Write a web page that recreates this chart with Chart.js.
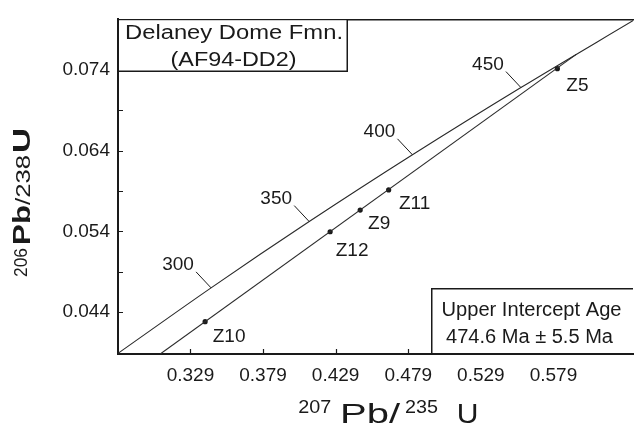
<!DOCTYPE html>
<html>
<head>
<meta charset="utf-8">
<script src="https://cdn.jsdelivr.net/npm/chart.js@4.4.0/dist/chart.umd.min.js"></script>
<style>
  body { margin: 0; background: #fff; }
  canvas { display: block; }
</style>
</head>
<body>
<canvas id="myChart" width="637" height="425"></canvas>
<script>
// concordia (Ma, 207Pb/235U, 206Pb/238U)
const concAges = [250, 300, 350, 400, 450, 500];
const concX = [0.2788, 0.3432, 0.4108, 0.4819, 0.5566, 0.6350];
const concY = [0.03887, 0.04701, 0.05521, 0.06347, 0.07179, 0.08019];
const labeledAges = [300, 350, 400, 450];

// zircon fractions
const zirconNames = ["Z10", "Z12", "Z9", "Z11", "Z5"];
const zirconX = [0.3391, 0.4252, 0.4459, 0.4655, 0.5817];
const zirconY = [0.04283, 0.05395, 0.05663, 0.05912, 0.07412];

// discordia (lower end at axis, upper intercept)
const discX = [0.3082, 0.5947];
const discY = [0.03883, 0.07589];

const xTicks = [0.329, 0.379, 0.429, 0.479, 0.529, 0.579, 0.629];
const xTickLabels = ["0.329", "0.379", "0.429", "0.479", "0.529", "0.579", ""];
const yTicks = [0.044, 0.049, 0.054, 0.059, 0.064, 0.069, 0.074];
const yTickLabels = ["0.044", "", "0.054", "", "0.064", "", "0.074"];

const FONT = "'Liberation Sans', Arial, Helvetica, sans-serif";
const INK = "#1a1a1a";

// draw text squeezed/stretched horizontally to a given width
function fitText(ctx, text, font, x, y, w, align) {
  ctx.save();
  ctx.font = font;
  const m = ctx.measureText(text).width;
  const s = w ? w / m : 1;
  let left = x;
  if (align === "center") left = x - (m * s) / 2;
  ctx.translate(left, y);
  ctx.scale(s, 1);
  ctx.textAlign = "left";
  ctx.fillText(text, 0, 0);
  ctx.restore();
}

const decoPlugin = {
  id: "deco",
  afterDraw(chart) {
    const { ctx, chartArea: a, scales } = chart;
    const x = scales.x, y = scales.y;
    ctx.save();
    ctx.fillStyle = INK;
    ctx.strokeStyle = INK;

    // inward ticks
    ctx.lineWidth = 1.2;
    ctx.beginPath();
    x.ticks.forEach((t) => {
      const px = Math.round(x.getPixelForValue(t.value)) + 0.5;
      ctx.moveTo(px, a.bottom);
      ctx.lineTo(px, a.bottom - 5);
    });
    y.ticks.forEach((t) => {
      const py = Math.round(y.getPixelForValue(t.value)) + 0.5;
      ctx.moveTo(a.left, py);
      ctx.lineTo(a.left + 5, py);
    });
    ctx.stroke();

    // age labels with leaders
    ctx.lineWidth = 1;
    ctx.font = "19px " + FONT;
    ctx.textAlign = "center";
    ctx.textBaseline = "middle";
    labeledAges.forEach((age) => {
      const i = concAges.indexOf(age);
      const px = x.getPixelForValue(concX[i]);
      const py = y.getPixelForValue(concY[i]);
      ctx.beginPath();
      ctx.moveTo(px - 15, py - 16);
      ctx.lineTo(px, py);
      ctx.stroke();
      ctx.fillText(String(age), px - 33, py - 23);
    });

    // zircon labels
    const zOff = [[24, 15], [22, 19], [19, 14], [26, 14], [20, 17]];
    zirconNames.forEach((n, i) => {
      const px = x.getPixelForValue(zirconX[i]);
      const py = y.getPixelForValue(zirconY[i]);
      ctx.fillText(n, px + zOff[i][0], py + zOff[i][1]);
    });

    // sample box (top left)
    ctx.lineWidth = 1.5;
    ctx.fillStyle = "#fff";
    ctx.fillRect(a.left + 1, a.top + 1, 347 - a.left - 1, 71 - a.top - 1);
    ctx.beginPath();
    ctx.moveTo(347.25, a.top);
    ctx.lineTo(347.25, 71.25);
    ctx.lineTo(a.left, 71.25);
    ctx.stroke();
    ctx.fillStyle = INK;
    ctx.textBaseline = "alphabetic";
    fitText(ctx, "Delaney Dome Fmn.", "20px " + FONT, 234, 38.5, 218, "center");
    fitText(ctx, "(AF94-DD2)", "20px " + FONT, 233.5, 65.5, 126, "center");

    // intercept box (bottom right)
    ctx.fillStyle = "#fff";
    ctx.fillRect(432, 289, a.right - 432, a.bottom - 290);
    ctx.beginPath();
    ctx.moveTo(431.75, a.bottom);
    ctx.lineTo(431.75, 288.75);
    ctx.lineTo(a.right, 288.75);
    ctx.stroke();
    ctx.fillStyle = INK;
    fitText(ctx, "Upper Intercept Age", "20px " + FONT, 441.5, 316, 180);
    fitText(ctx, "474.6 Ma \u00b1 5.5 Ma", "20px " + FONT, 446, 342.5, 167);

    // x title: 207Pb/235U
    fitText(ctx, "207", "19px " + FONT, 298.3, 412.7, 33);
    fitText(ctx, "Pb/", "28px " + FONT, 340, 423.3, 60);
    fitText(ctx, "235", "19px " + FONT, 405, 412.7, 33);
    fitText(ctx, "U", "28px " + FONT, 456.7, 423.3, 21.7);

    // y title: 206Pb/238U (rotated)
    ctx.translate(30, 277);
    ctx.rotate(-Math.PI / 2);
    fitText(ctx, "206", "19px " + FONT, 0, -3, 29);
    fitText(ctx, "Pb", "bold 24px " + FONT, 32, 0, 40);
    fitText(ctx, "/238", "20px " + FONT, 72, 0, 50);
    fitText(ctx, "U", "bold 24px " + FONT, 124, 0, 25);

    ctx.restore();
  },
};

const toPts = (xs, ys) => xs.map((v, i) => ({ x: v, y: ys[i] }));

new Chart(document.getElementById("myChart"), {
  type: "scatter",
  data: {
    datasets: [
      {
        label: "Concordia",
        data: toPts(concX, concY),
        showLine: true,
        borderColor: "#2a2a2a",
        borderWidth: 1.1,
        pointRadius: 0,
        cubicInterpolationMode: "monotone",
      },
      {
        label: "Discordia",
        data: toPts(discX, discY),
        showLine: true,
        borderColor: "#2a2a2a",
        borderWidth: 1.1,
        pointRadius: 0,
      },
      {
        label: "Zircons",
        data: toPts(zirconX, zirconY),
        showLine: false,
        pointRadius: 2.6,
        pointBackgroundColor: "#1a1a1a",
        pointBorderWidth: 0,
      },
    ],
  },
  options: {
    responsive: false,
    animation: false,
    devicePixelRatio: 1,
    layout: { padding: { top: 10, right: 0, left: 0, bottom: 0 } },
    plugins: { legend: { display: false }, tooltip: { enabled: false } },
    scales: {
      x: {
        type: "linear",
        position: "bottom",
        min: 0.27911,
        max: 0.63379,
        afterBuildTicks: (s) => { s.ticks = xTicks.map((v) => ({ value: v })); },
        afterFit: (s) => { s.height = 71; },
        ticks: {
          padding: 10,
          maxRotation: 0,
          autoSkip: false,
          color: INK,
          font: { family: FONT, size: 19 },
          callback: (v, i) => xTickLabels[i],
        },
        grid: { drawOnChartArea: false, drawTicks: false },
        border: { display: true, width: 2, color: INK },
      },
      x2: {
        type: "linear",
        position: "top",
        min: 0.27911,
        max: 0.63379,
        afterFit: (s) => { s.height = 0; },
        ticks: { display: false },
        grid: { drawOnChartArea: false, drawTicks: false },
        border: { display: true, width: 1.5, color: INK },
      },
      y: {
        type: "linear",
        min: 0.03883,
        max: 0.08022,
        afterBuildTicks: (s) => { s.ticks = yTicks.map((v) => ({ value: v })); },
        afterFit: (s) => { s.width = 118; },
        ticks: {
          padding: 8,
          autoSkip: false,
          color: INK,
          font: { family: FONT, size: 19 },
          callback: (v, i) => yTickLabels[i],
        },
        grid: { drawOnChartArea: false, drawTicks: false },
        border: { display: true, width: 2, color: INK },
      },
    },
  },
  plugins: [decoPlugin],
});
</script>
</body>
</html>
